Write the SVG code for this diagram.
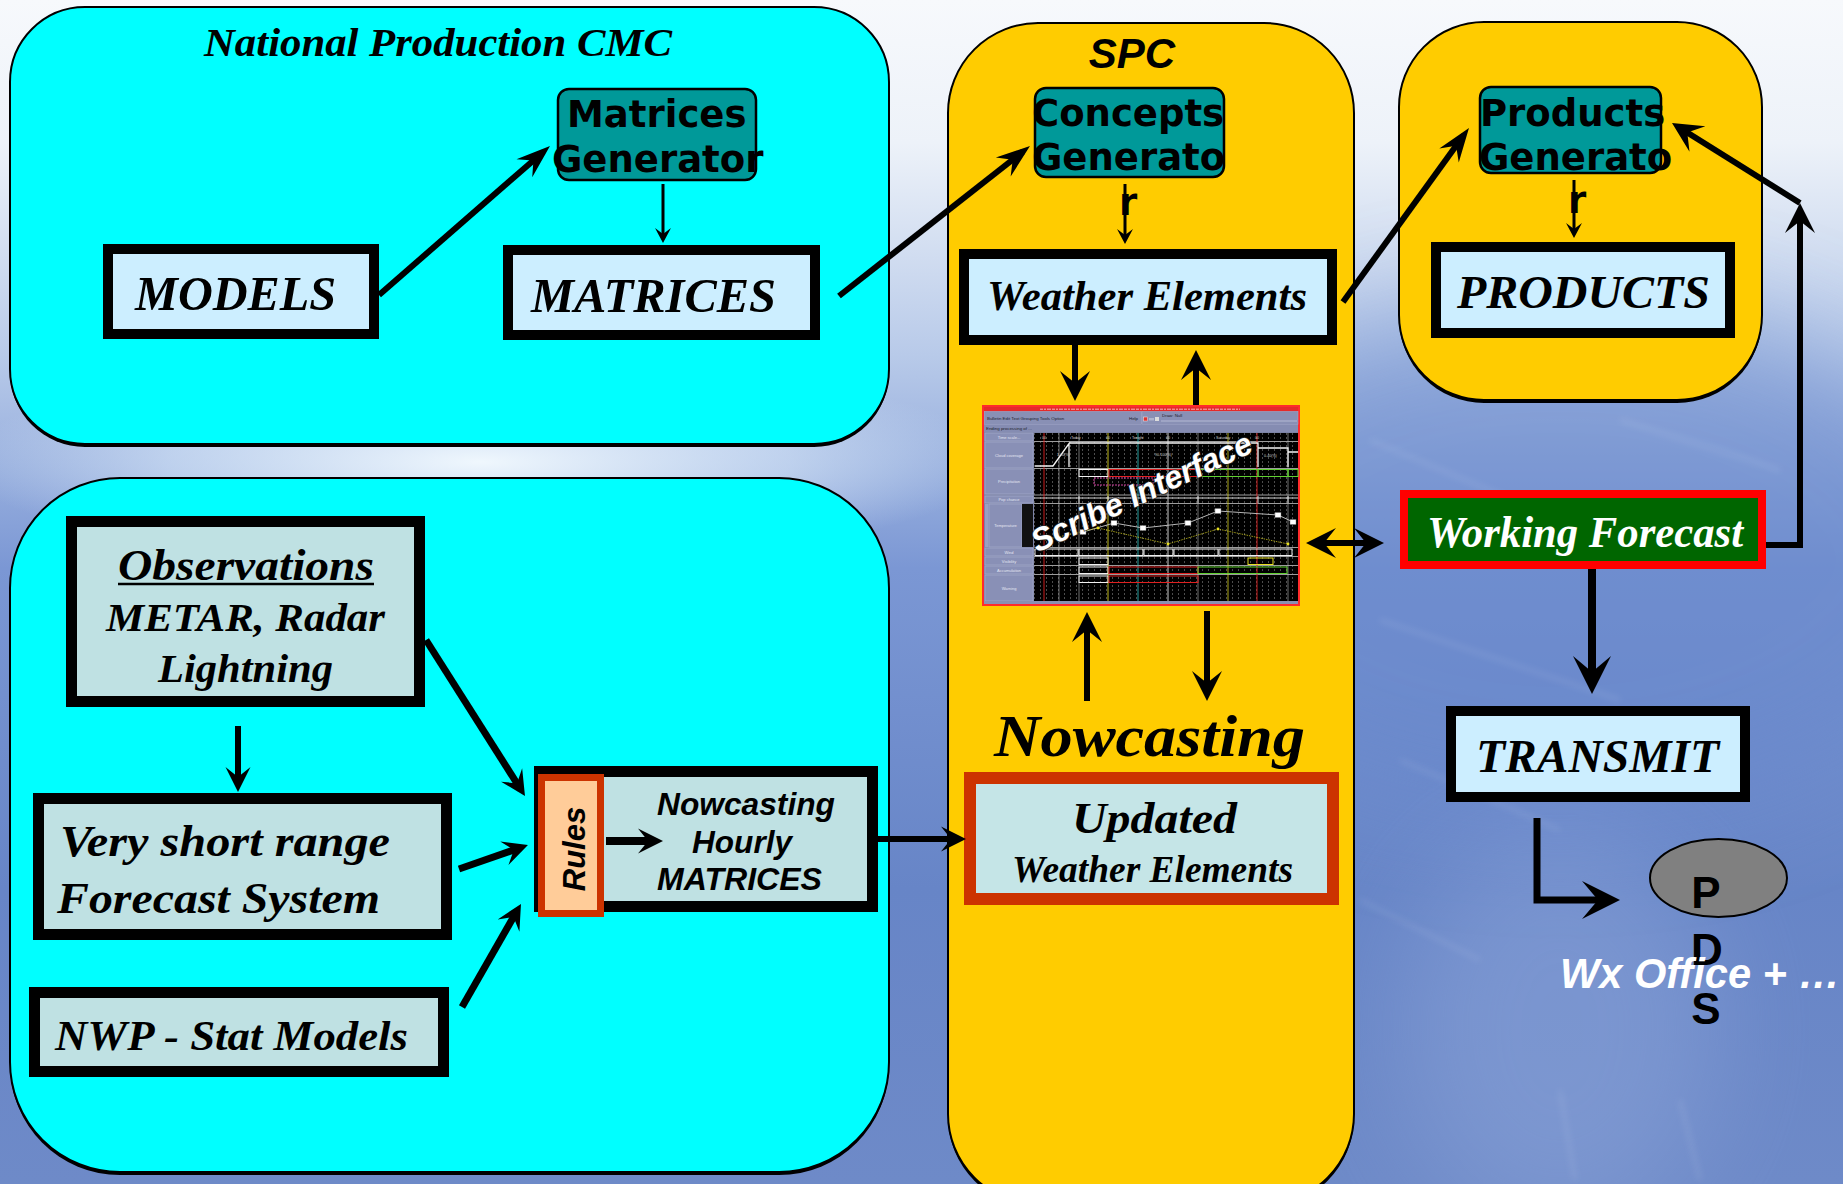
<svg xmlns="http://www.w3.org/2000/svg" width="1843" height="1184" viewBox="0 0 1843 1184">
  <defs>
    <style>
      .cyan { fill: #00FFFF; stroke: #000; stroke-width: 2; }
      .yellow { fill: #FFCC00; stroke: #000; stroke-width: 2; }
      .pshadow { fill: #000; }
      .box-blue { fill: #CCEEFF; stroke: #000; stroke-width: 10; }
      .box-gray { fill: #BFE1E3; stroke: #000; stroke-width: 11; }
      .teal { fill: #009999; stroke: #000; stroke-width: 2.5; }
      .serif { font-family: "Liberation Serif", "Times New Roman", serif; font-style: italic; font-weight: bold; fill: #000; }
      .sans-bi { font-family: "Liberation Sans", Arial, sans-serif; font-style: italic; font-weight: bold; fill: #000; }
      .sans-b { font-family: "Liberation Sans", Arial, sans-serif; font-weight: bold; fill: #000; }
      .gen { font-family: "DejaVu Sans", sans-serif; font-weight: bold; font-size: 37px; fill: #000; }
      .conn { fill: none; stroke: #000; stroke-width: 6; }
      .conn-thin { fill: none; stroke: #000; stroke-width: 3; }
      .head { fill: #000; }
      .tiny { font-family: "Liberation Sans", Arial, sans-serif; font-size: 4.4px; fill: #1c1c2c; }
      .lbl { font-family: "Liberation Sans", Arial, sans-serif; font-size: 4px; fill: #e4e6f2; text-anchor: middle; }
      .chart-txt { font-family: "Liberation Sans", Arial, sans-serif; font-size: 3.6px; fill: #d0d0d0; }
      .lblbox { fill: #8990b6; stroke: #a9b0d0; stroke-width: 0.6; }
    </style>

    <linearGradient id="sky" x1="0" y1="0" x2="0" y2="1">
      <stop offset="0" stop-color="#f7f9fc"/>
      <stop offset="0.12" stop-color="#edf2f9"/>
      <stop offset="0.3" stop-color="#b8cae9"/>
      <stop offset="0.48" stop-color="#7b97d4"/>
      <stop offset="0.75" stop-color="#6785c7"/>
      <stop offset="1" stop-color="#6e8ac8"/>
    </linearGradient>
    <radialGradient id="glow" cx="0.5" cy="0.5" r="0.5">
      <stop offset="0" stop-color="#f4fbff" stop-opacity="0.95"/>
      <stop offset="0.6" stop-color="#e2f1fc" stop-opacity="0.5"/>
      <stop offset="1" stop-color="#d8e8f8" stop-opacity="0"/>
    </radialGradient>
    <filter id="soft" x="-50%" y="-50%" width="200%" height="200%">
      <feGaussianBlur stdDeviation="55"/>
    </filter>
    <filter id="streak" x="-10%" y="-50%" width="120%" height="200%">
      <feGaussianBlur stdDeviation="3"/>
    </filter>

    <pattern id="gridDots" x="1034" y="433" width="6" height="4" patternUnits="userSpaceOnUse">
      <rect x="0" y="0" width="0.7" height="2" fill="#6e6e6e"/>
    </pattern>

    <!-- barbed arrowheads, drawn in user units; the tip sits a little past the path end -->
    <marker id="ah" viewBox="-32 -16 34 32" markerWidth="34" markerHeight="32" refX="-8" refY="0" orient="auto" markerUnits="userSpaceOnUse">
      <path class="head" d="M0,0 L-30,-15 L-18,0 L-30,15 Z"/>
    </marker>
    <marker id="ah-start" viewBox="-32 -16 34 32" markerWidth="34" markerHeight="32" refX="-8" refY="0" orient="auto-start-reverse" markerUnits="userSpaceOnUse">
      <path class="head" d="M0,0 L-30,-15 L-18,0 L-30,15 Z"/>
    </marker>
    <marker id="ahn" viewBox="-36 -13 38 26" markerWidth="38" markerHeight="26" refX="-9" refY="0" orient="auto" markerUnits="userSpaceOnUse">
      <path class="head" d="M0,0 L-34,-12 L-22,0 L-34,12 Z"/>
    </marker>
    <marker id="ahm" viewBox="-27 -14 29 28" markerWidth="29" markerHeight="28" refX="-8" refY="0" orient="auto" markerUnits="userSpaceOnUse">
      <path class="head" d="M0,0 L-25,-12.5 L-15,0 L-25,12.5 Z"/>
    </marker>
    <marker id="ahb" viewBox="-40 -20 42 40" markerWidth="42" markerHeight="40" refX="-10" refY="0" orient="auto" markerUnits="userSpaceOnUse">
      <path class="head" d="M0,0 L-38,-19 L-22,0 L-38,19 Z"/>
    </marker>
    <marker id="ahs" viewBox="-17 -9 19 18" markerWidth="19" markerHeight="18" refX="-4" refY="0" orient="auto" markerUnits="userSpaceOnUse">
      <path class="head" d="M0,0 L-15,-8 L-9,0 L-15,8 Z"/>
    </marker>
  </defs>

  <!-- sky backdrop -->
  <g id="backdrop">
    <rect x="0" y="0" width="1843" height="1184" fill="url(#sky)"/>
    <ellipse cx="1560" cy="560" rx="420" ry="260" fill="#6686cb" opacity="0.55" filter="url(#soft)"/>
    <ellipse cx="480" cy="462" rx="520" ry="105" fill="url(#glow)"/>
    <ellipse cx="1560" cy="1030" rx="160" ry="200" fill="#9ab0e0" opacity="0.35" filter="url(#soft)"/>
    <g filter="url(#streak)" stroke="#ffffff" stroke-width="4" opacity="0.09" fill="none">
      <path d="M1370,440 L1560,520"/>
      <path d="M1380,620 L1620,700"/>
      <path d="M1400,760 L1560,830"/>
      <path d="M1360,900 L1480,960"/>
      <path d="M1620,420 L1780,470"/>
      <path d="M1200,470 L1330,520"/>
      <path d="M1680,1100 L1700,1180"/>
      <path d="M1560,1090 L1575,1180"/>
    </g>
  </g>

  <!-- containers -->
  <g id="panel-national-production">
    <rect class="pshadow" x="10" y="10" width="879" height="437" rx="75"/>
    <rect class="cyan" x="10" y="7" width="879" height="437" rx="75"/>
    <text class="serif" x="204" y="56" font-size="41" textLength="468" lengthAdjust="spacingAndGlyphs">National Production CMC</text>
  </g>
  <g id="panel-nowcasting-inputs">
    <rect class="pshadow" x="10" y="481" width="879" height="694" rx="110"/>
    <rect class="cyan" x="10" y="478" width="879" height="694" rx="110"/>
  </g>
  <g id="panel-spc">
    <rect class="pshadow" x="948" y="26" width="406" height="1181" rx="90"/>
    <rect class="yellow" x="948" y="23" width="406" height="1181" rx="90"/>
    <text class="sans-bi" x="1132" y="68" font-size="42" text-anchor="middle">SPC</text>
    <text class="serif" x="994" y="756" font-size="59" textLength="311" lengthAdjust="spacingAndGlyphs">Nowcasting</text>
  </g>
  <g id="panel-products">
    <rect class="pshadow" x="1399" y="25" width="363" height="378" rx="85"/>
    <rect class="yellow" x="1399" y="22" width="363" height="378" rx="85"/>
  </g>

  <!-- nodes -->
  <g id="matrices-generator">
    <rect class="teal" x="558" y="89" width="198" height="91" rx="11"/>
    <text class="gen" x="567" y="127">Matrices</text>
    <text class="gen" x="552" y="172">Generator</text>
  </g>
  <g id="models">
    <rect class="box-blue" x="108" y="249" width="266" height="85"/>
    <text class="serif" x="135" y="310" font-size="48" textLength="201" lengthAdjust="spacingAndGlyphs">MODELS</text>
  </g>
  <g id="matrices">
    <rect class="box-blue" x="508" y="250" width="307" height="85"/>
    <text class="serif" x="531" y="312" font-size="48" textLength="245" lengthAdjust="spacingAndGlyphs">MATRICES</text>
  </g>
  <g id="concepts-generator">
    <rect class="teal" x="1035" y="88" width="189" height="89" rx="11"/>
    <text class="gen" x="1032" y="126">Concepts</text>
    <text class="gen" x="1032" y="170">Generato</text>
    <text class="gen" x="1119" y="215">r</text>
  </g>
  <g id="weather-elements">
    <rect class="box-blue" x="964" y="254" width="368" height="86"/>
    <text class="serif" x="987" y="310" font-size="43" textLength="320" lengthAdjust="spacingAndGlyphs">Weather Elements</text>
  </g>
  <g id="products-generator">
    <rect class="teal" x="1480" y="87" width="181" height="86" rx="11"/>
    <text class="gen" x="1480" y="126">Products</text>
    <text class="gen" x="1479" y="170">Generato</text>
    <text class="gen" x="1568" y="213">r</text>
  </g>
  <g id="products">
    <rect class="box-blue" x="1436" y="247" width="294" height="86"/>
    <text class="serif" x="1457" y="308" font-size="47" textLength="253" lengthAdjust="spacingAndGlyphs">PRODUCTS</text>
  </g>

  <g id="scribe-interface">
    <rect x="983" y="406" width="316" height="199" fill="#7c83a6" stroke="#ff2b2b" stroke-width="2"/>
    <rect x="984" y="407" width="314" height="4.5" fill="#e52a2a"/>
    <line x1="1040" y1="409.2" x2="1240" y2="409.2" stroke="#ffd6d6" stroke-width="0.8" stroke-dasharray="3 1 2 1 4 1"/>
    <!-- menu bar -->
    <rect x="984.5" y="411.5" width="157" height="13" fill="#8990b5" stroke="#a3aacb" stroke-width="0.5"/>
    <rect x="1142" y="411.5" width="156" height="13" fill="#8990b5" stroke="#a3aacb" stroke-width="0.5"/>
    <text class="tiny" x="987" y="420">Bulletin  Edit  Text  Grouping  Tools  Option</text>
    <text class="tiny" x="1129" y="420">Help</text>
    <rect x="1143.5" y="417" width="4" height="4" fill="#d33" stroke="#eee" stroke-width="0.5"/>
    <rect x="1149" y="418" width="5" height="2.5" fill="#b0b4cc"/>
    <rect x="1155" y="417" width="4" height="4" fill="#dcdcdc"/>
    <line x1="1161" y1="421" x2="1297" y2="421" stroke="#b4b9d4" stroke-width="1"/>
    <text class="tiny" x="1162" y="416.5">Draw: Null</text>
    <!-- status line -->
    <rect x="984" y="425" width="314" height="7" fill="#858cb2"/>
    <text class="tiny" x="986" y="430.3">Ending processing of ...</text>

    <!-- row labels -->
    <rect class="lblbox" x="985" y="433" width="48" height="8"/>
    <rect class="lblbox" x="985" y="442" width="48" height="26"/>
    <rect class="lblbox" x="985" y="469" width="48" height="25"/>
    <rect class="lblbox" x="985" y="496" width="48" height="7"/>
    <rect class="lblbox" x="989" y="504" width="33" height="43"/>
    <rect x="985" y="504" width="3.5" height="43" fill="#9aa0c2"/>
    <rect x="1022" y="504" width="11" height="43" fill="#111"/>
    <rect class="lblbox" x="985" y="548" width="48" height="8"/>
    <rect class="lblbox" x="985" y="557" width="48" height="8"/>
    <rect class="lblbox" x="985" y="566" width="48" height="8"/>
    <rect class="lblbox" x="985" y="575" width="48" height="26"/>
    <text class="lbl" x="1009" y="438.5">Time scale...</text>
    <text class="lbl" x="1009" y="456.5">Cloud coverage</text>
    <text class="lbl" x="1009" y="483">Precipitation</text>
    <text class="lbl" x="1009" y="501">Pop chance</text>
    <text class="lbl" x="1005.5" y="527">Temperature</text>
    <text class="lbl" x="1009" y="553.5">Wind</text>
    <text class="lbl" x="1009" y="562.5">Visibility</text>
    <text class="lbl" x="1009" y="571.5">Accumulation</text>
    <text class="lbl" x="1009" y="589.5">Warning</text>

    <!-- chart area -->
    <rect x="1034" y="433" width="264" height="168" fill="#000"/>
    <rect x="1034" y="433" width="264" height="168" fill="url(#gridDots)"/>
    <g stroke="#9c9c9c" stroke-width="1.1">
      <line x1="1034" y1="441.5" x2="1298" y2="441.5"/>
      <line x1="1034" y1="468.5" x2="1298" y2="468.5"/>
      <line x1="1034" y1="495" x2="1298" y2="495"/>
      <line x1="1034" y1="503.5" x2="1298" y2="503.5"/>
      <line x1="1034" y1="547.5" x2="1298" y2="547.5"/>
      <line x1="1034" y1="556.5" x2="1298" y2="556.5"/>
      <line x1="1034" y1="565.5" x2="1298" y2="565.5"/>
      <line x1="1034" y1="574.5" x2="1298" y2="574.5"/>
    </g>
    <g stroke="#bdbdbd" stroke-width="0.6">
      <line x1="1059" y1="433" x2="1059" y2="601"/>
      <line x1="1079" y1="433" x2="1079" y2="601"/>
      <line x1="1198" y1="433" x2="1198" y2="601"/>
      <line x1="1288" y1="433" x2="1288" y2="601"/>
    </g>
    <line x1="1044" y1="433" x2="1044" y2="601" stroke="#e02020" stroke-width="0.9"/>
    <line x1="1108" y1="433" x2="1108" y2="601" stroke="#d8d020" stroke-width="0.9"/>
    <line x1="1138" y1="433" x2="1138" y2="601" stroke="#30c8c8" stroke-width="0.8"/>
    <line x1="1168" y1="433" x2="1168" y2="601" stroke="#e8e8e8" stroke-width="0.9"/>
    <line x1="1228" y1="433" x2="1228" y2="601" stroke="#d8d020" stroke-width="0.8"/>
    <line x1="1257" y1="433" x2="1257" y2="601" stroke="#e02020" stroke-width="0.9"/>
    <text class="chart-txt" x="1042" y="439">00</text>
    <text class="chart-txt" x="1071" y="439">Today</text>
    <text class="chart-txt" x="1106" y="439">00</text>
    <text class="chart-txt" x="1132" y="439">Tonight</text>
    <text class="chart-txt" x="1166" y="439">00</text>
    <text class="chart-txt" x="1216" y="439">Saturday</text>
    <text class="chart-txt" x="1255" y="439">00</text>

    <!-- cloud coverage trace -->
    <path d="M1035,466 H1053 L1069,443.5 V467 M1069,443 H1258 V467 M1258,448 H1288 V467 M1288,452 H1298" fill="none" stroke="#f4f4f4" stroke-width="1.3"/>
    <text class="chart-txt" x="1057" y="456">1-30(%)</text>
    <text class="chart-txt" x="1155" y="456">90-100(%)</text>
    <text class="chart-txt" x="1264" y="457">0-40(%)</text>

    <!-- precipitation -->
    <g fill="none" stroke-width="1">
      <rect x="1079" y="469.5" width="29" height="7" stroke="#f0f0f0"/>
      <rect x="1109" y="469.5" width="89" height="7" stroke="#e02020"/>
      <rect x="1198" y="469.5" width="60" height="7" stroke="#60d030"/>
      <rect x="1258" y="469.5" width="30" height="7" stroke="#60d030"/>
      <rect x="1288" y="469.5" width="10" height="7" stroke="#60d030"/>
      <rect x="1094" y="478" width="59" height="7" stroke="#d040a0" stroke-dasharray="2 1"/>
    </g>

    <!-- pop -->
    <path d="M1034,498 H1298 M1079,496 V503 M1108,496 V503 M1198,496 V503 M1258,496 V503 M1288,496 V503" fill="none" stroke="#eeeeee" stroke-width="0.9"/>

    <!-- temperature traces -->
    <polyline points="1083,532 1114,523 1143,528 1188,523 1218,511 1278,515 1293,522" fill="none" stroke="#c8c8c8" stroke-width="0.9"/>
    <polyline points="1045,540 1098,528 1168,544 1218,529 1288,544" fill="none" stroke="#c8c020" stroke-width="0.8" stroke-dasharray="1.5 1"/>
    <g fill="#ffffff" stroke="#666" stroke-width="0.4">
      <rect x="1080" y="529.5" width="6" height="5"/>
      <rect x="1111" y="520.5" width="6" height="5"/>
      <rect x="1140" y="525.5" width="6" height="5"/>
      <rect x="1185" y="520.5" width="6" height="5"/>
      <rect x="1215" y="508.5" width="6" height="5"/>
      <rect x="1275" y="512.5" width="6" height="5"/>
      <rect x="1290" y="519.5" width="6" height="5"/>
    </g>
    <g fill="#e8e020">
      <circle cx="1098" cy="528" r="1.4"/>
      <circle cx="1168" cy="544" r="1.4"/>
      <circle cx="1218" cy="529" r="1.4"/>
      <circle cx="1288" cy="544" r="1.4"/>
    </g>

    <!-- wind, visibility, accumulation, warning -->
    <g fill="none" stroke-width="1">
      <rect x="1035" y="549" width="43" height="6.5" stroke="#f0f0f0"/>
      <rect x="1079" y="549" width="64" height="6.5" stroke="#f0f0f0"/>
      <rect x="1144" y="549" width="29" height="6.5" stroke="#f0f0f0"/>
      <rect x="1174" y="549" width="44" height="6.5" stroke="#f0f0f0"/>
      <rect x="1219" y="549" width="73" height="6.5" stroke="#f0f0f0"/>
      <rect x="1079" y="558" width="29" height="6.5" stroke="#f0f0f0"/>
      <rect x="1248" y="558" width="25" height="6.5" stroke="#e8e020"/>
      <rect x="1079" y="567" width="29" height="6.5" stroke="#f0f0f0"/>
      <rect x="1109" y="567" width="89" height="6.5" stroke="#e02020"/>
      <rect x="1198" y="567" width="89" height="6.5" stroke="#60d030"/>
      <rect x="1079" y="576" width="29" height="6.5" stroke="#f0f0f0"/>
      <rect x="1109" y="576" width="89" height="6.5" stroke="#e02020"/>
    </g>
    <rect x="984" y="601" width="314" height="3" fill="#8a90b2"/>

    <text class="sans-bi" transform="translate(1146,502) rotate(-25)" font-size="32" text-anchor="middle" textLength="240" lengthAdjust="spacingAndGlyphs" stroke="#2a2a2a" stroke-width="1.4" paint-order="stroke" style="fill:#ffffff">Scribe Interface</text>
  </g>

  <g id="updated-weather-elements">
    <rect x="970" y="778" width="363" height="121" fill="#C5E5E7" stroke="#CC3300" stroke-width="12"/>
    <text class="serif" x="1072" y="833" font-size="45" textLength="165" lengthAdjust="spacingAndGlyphs">Updated</text>
    <text class="serif" x="1012" y="882" font-size="38" textLength="281" lengthAdjust="spacingAndGlyphs">Weather Elements</text>
  </g>

  <g id="working-forecast">
    <rect x="1404" y="494" width="358" height="71" fill="#006600" stroke="#FF0000" stroke-width="8"/>
    <text class="serif" x="1427" y="547" font-size="45" textLength="316" lengthAdjust="spacingAndGlyphs" style="fill:#ffffff">Working Forecast</text>
  </g>

  <g id="transmit">
    <rect class="box-blue" x="1451" y="711" width="294" height="86"/>
    <text class="serif" x="1476" y="772" font-size="47" textLength="243" lengthAdjust="spacingAndGlyphs">TRANSMIT</text>
  </g>

  <g id="pds">
    <ellipse cx="1718.5" cy="878" rx="68.5" ry="39" fill="#808080" stroke="#000" stroke-width="2"/>
    <text class="sans-b" x="1706" y="908" font-size="44" text-anchor="middle">P</text>
    <text class="sans-b" x="1707" y="965" font-size="44" text-anchor="middle">D</text>
    <text class="sans-b" x="1706" y="1024" font-size="44" text-anchor="middle">S</text>
    <text class="sans-bi" x="1560" y="988" font-size="42" textLength="280" lengthAdjust="spacingAndGlyphs" style="fill:#ffffff">Wx Office + …</text>
  </g>

  <g id="observations">
    <rect class="box-gray" x="71.5" y="521.5" width="348" height="180"/>
    <text class="serif" x="118" y="580" font-size="45" textLength="256" lengthAdjust="spacingAndGlyphs">Observations</text>
    <line x1="118" y1="584" x2="374" y2="584" stroke="#000" stroke-width="2.5"/>
    <text class="serif" x="106" y="631" font-size="41" textLength="279" lengthAdjust="spacingAndGlyphs">METAR, Radar</text>
    <text class="serif" x="158" y="682" font-size="41" textLength="175" lengthAdjust="spacingAndGlyphs">Lightning</text>
  </g>
  <g id="very-short-range">
    <rect class="box-gray" x="38.5" y="798.5" width="408" height="136"/>
    <text class="serif" x="60" y="856" font-size="45" textLength="330" lengthAdjust="spacingAndGlyphs">Very short range</text>
    <text class="serif" x="57" y="913" font-size="45" textLength="323" lengthAdjust="spacingAndGlyphs">Forecast System</text>
  </g>
  <g id="nwp-stat-models">
    <rect class="box-gray" x="34.5" y="992.5" width="409" height="79"/>
    <text class="serif" x="55" y="1050" font-size="42" textLength="353" lengthAdjust="spacingAndGlyphs">NWP - Stat Models</text>
  </g>
  <g id="nowcasting-matrices">
    <rect class="box-gray" x="539.5" y="771.5" width="333" height="135"/>
    <text class="sans-bi" x="657" y="815" font-size="32" textLength="178" lengthAdjust="spacingAndGlyphs">Nowcasting</text>
    <text class="sans-bi" x="692" y="853" font-size="32" textLength="100" lengthAdjust="spacingAndGlyphs">Hourly</text>
    <text class="sans-bi" x="657" y="890" font-size="32" textLength="165" lengthAdjust="spacingAndGlyphs">MATRICES</text>
  </g>
  <g id="rules">
    <rect x="541.5" y="777.5" width="59" height="136" fill="#FFCC99" stroke="#CC3300" stroke-width="7"/>
    <text class="sans-bi" transform="translate(585,849) rotate(-90)" font-size="31" text-anchor="middle">Rules</text>
  </g>

  <!-- connectors -->
  <g id="connectors">
    <path class="conn" d="M379,295 L543.2,151.9" marker-end="url(#ahn)"/>
    <path class="conn-thin" d="M663,184 V239" marker-end="url(#ahs)"/>
    <path class="conn" d="M839,296 L1022.9,151.6" marker-end="url(#ahn)"/>
    <path class="conn-thin" d="M1125,184 V240" marker-end="url(#ahs)"/>
    <path class="conn" d="M1343,302 L1463.7,135.3" marker-end="url(#ahn)"/>
    <path class="conn-thin" d="M1574,180 V234" marker-end="url(#ahs)"/>

    <path class="conn" d="M1075,345 V393" marker-end="url(#ah)"/>
    <path class="conn" d="M1196,405 V358" marker-end="url(#ah)"/>
    <path class="conn" d="M1087,701 V620" marker-end="url(#ah)"/>
    <path class="conn" d="M1207,611 V693" marker-end="url(#ah)"/>
    <path class="conn" d="M1314,543 H1376" marker-start="url(#ah-start)" marker-end="url(#ah)"/>

    <path class="conn" d="M1766,545 H1800 V211" marker-end="url(#ah)"/>
    <path class="conn" d="M1800,203 L1678.8,127.3" marker-end="url(#ah)"/>

    <path class="conn" style="stroke-width:8" d="M1592,569 V684" marker-end="url(#ahb)"/>
    <path class="conn" style="stroke-width:7" d="M1537,818 V900 H1610" marker-end="url(#ahb)"/>

    <path class="conn" d="M238,726 V784" marker-end="url(#ahm)"/>
    <path class="conn" style="stroke-width:7" d="M426,640 L520.7,789.3" marker-end="url(#ahm)"/>
    <path class="conn" style="stroke-width:7" d="M459,869 L520.4,847.6" marker-end="url(#ahm)"/>
    <path class="conn" style="stroke-width:7" d="M462,1007 L517,910.9" marker-end="url(#ahm)"/>
    <path class="conn" style="stroke-width:8" d="M606,841 H655" marker-end="url(#ahm)"/>
    <path class="conn" d="M878,839 H958" marker-end="url(#ahm)"/>
  </g>
</svg>
